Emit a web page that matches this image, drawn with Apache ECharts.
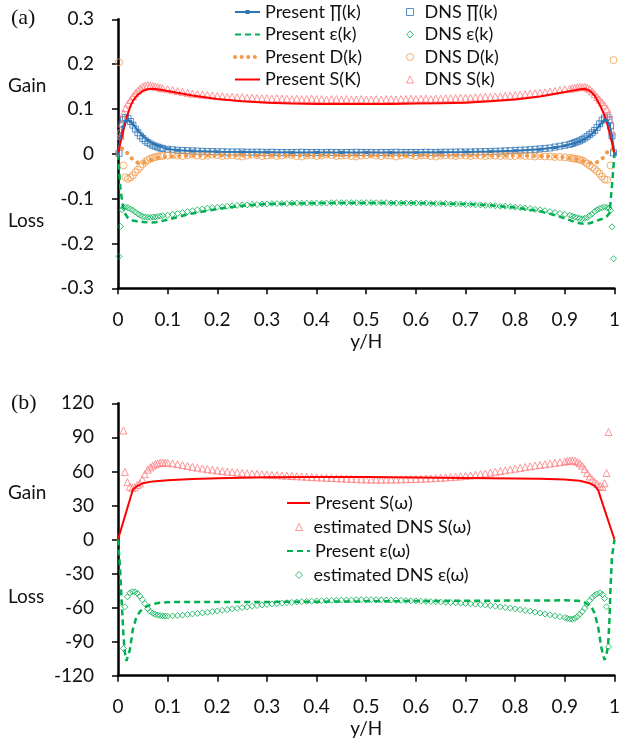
<!DOCTYPE html>
<html><head><meta charset="utf-8">
<script src="https://cdn.jsdelivr.net/npm/echarts@6/dist/echarts.min.js"></script>
<style>html,body{margin:0;padding:0;background:#fff}#c{width:623px;height:749px}</style>
</head><body><div id="c"></div>
<script>
// ---------- Panel (a) ----------
const presentX = [0,0.005,0.01,0.015,0.02,0.025,0.03,0.04,0.05,0.06,0.07,0.08,0.1,0.12,0.15,0.2,0.25,0.3,0.35,0.4,0.45,0.5,0.55,0.6,0.65,0.7,0.75,0.8,0.85,0.88,0.9,0.92,0.93,0.94,0.95,0.96,0.97,0.975,0.98,0.985,0.99,0.995,1];
const presentPi = [0,0.035,0.06,0.072,0.075,0.072,0.066,0.052,0.04,0.03,0.023,0.018,0.011,0.008,0.006,0.0045,0.004,0.0035,0.003,0.003,0.003,0.003,0.003,0.003,0.0035,0.004,0.005,0.007,0.01,0.014,0.018,0.024,0.028,0.033,0.04,0.05,0.063,0.07,0.075,0.074,0.065,0.04,0];
const presentEps = [0,-0.08,-0.117,-0.135,-0.143,-0.147,-0.149,-0.151,-0.152,-0.153,-0.153,-0.152,-0.147,-0.141,-0.133,-0.123,-0.116,-0.112,-0.111,-0.11,-0.11,-0.11,-0.11,-0.11,-0.111,-0.112,-0.115,-0.12,-0.128,-0.137,-0.144,-0.152,-0.155,-0.156,-0.155,-0.151,-0.147,-0.145,-0.142,-0.139,-0.132,-0.07,0];
const presentD = [0,0.011,0.012,0.007,0,-0.007,-0.013,-0.02,-0.02,-0.016,-0.012,-0.009,-0.006,-0.005,-0.004,-0.004,-0.004,-0.004,-0.004,-0.004,-0.004,-0.004,-0.004,-0.004,-0.004,-0.004,-0.004,-0.004,-0.005,-0.006,-0.008,-0.011,-0.014,-0.017,-0.02,-0.021,-0.016,-0.011,-0.005,0.003,0.01,0.011,0];
const presentS = [0,0.025,0.048,0.07,0.09,0.106,0.118,0.132,0.14,0.144,0.145,0.144,0.14,0.136,0.13,0.122,0.117,0.114,0.112,0.111,0.111,0.111,0.111,0.112,0.113,0.114,0.117,0.121,0.128,0.134,0.138,0.142,0.144,0.145,0.141,0.13,0.11,0.098,0.085,0.068,0.047,0.024,0];

const dnsX = [0.002,0.005,0.008,0.011,0.015,0.02,0.025,0.03,0.035,0.04,0.045,0.05,0.055,0.06,0.065,0.07,0.075,0.08,0.085,
 0.09,0.10,0.11,0.12,0.13,0.14,0.15,0.16,0.17,0.18,0.19,0.20,0.21,0.22,0.23,0.24,0.25,0.26,0.27,0.28,0.29,
 0.30,0.31,0.32,0.33,0.34,0.35,0.36,0.37,0.38,0.39,0.40,0.41,0.42,0.43,0.44,0.45,0.46,0.47,0.48,0.49,
 0.50,0.51,0.52,0.53,0.54,0.55,0.56,0.57,0.58,0.59,0.60,0.61,0.62,0.63,0.64,0.65,0.66,0.67,0.68,0.69,
 0.70,0.71,0.72,0.73,0.74,0.75,0.76,0.77,0.78,0.79,0.80,0.81,0.82,0.83,0.84,0.85,0.86,0.87,0.88,0.89,0.90,0.91,
 0.915,0.92,0.925,0.93,0.935,0.94,0.945,0.95,0.955,0.96,0.965,0.97,0.975,0.98,0.985,0.989,0.992,0.995,0.998];
const dnsPi = [0.001,0.04,0.066,0.076,0.081,0.079,0.072,0.064,0.055,0.047,0.04,0.034,0.029,0.025,0.022,0.019,0.017,0.015,0.013,
 0.012,0.010,0.009,0.008,0.0075,0.007,0.0065,0.006,0.0055,0.005,0.005,0.0045,0.0045,0.004,0.004,0.004,0.004,0.0035,0.0035,0.0035,0.0035,
 0.003,0.0035,0.003,0.003,0.0025,0.003,0.003,0.0035,0.003,0.003,0.003,0.0025,0.003,0.003,0.003,0.0025,0.003,0.003,0.0035,0.003,
 0.003,0.003,0.0025,0.003,0.003,0.003,0.0035,0.003,0.003,0.003,0.003,0.003,0.0035,0.003,0.003,0.0035,0.0035,0.0035,0.004,0.004,
 0.004,0.004,0.0045,0.0045,0.005,0.005,0.0055,0.006,0.0065,0.007,0.0075,0.008,0.0085,0.009,0.01,0.011,0.012,0.013,0.015,0.017,0.019,0.021,
 0.023,0.025,0.027,0.029,0.032,0.035,0.039,0.043,0.047,0.052,0.059,0.067,0.075,0.08,0.082,0.076,0.062,0.04,0.002];
const dnsEps = [-0.229,-0.162,-0.125,-0.12,-0.119,-0.12,-0.123,-0.126,-0.13,-0.134,-0.137,-0.14,-0.141,-0.142,-0.142,-0.141,-0.141,-0.14,-0.139,
 -0.138,-0.137,-0.135,-0.133,-0.131,-0.129,-0.127,-0.125,-0.123,-0.121,-0.12,-0.119,-0.118,-0.117,-0.116,-0.115,-0.114,-0.114,-0.113,-0.113,-0.112,
 -0.112,-0.111,-0.111,-0.111,-0.111,-0.11,-0.11,-0.11,-0.11,-0.11,-0.11,-0.11,-0.11,-0.109,-0.109,-0.109,-0.109,-0.109,-0.109,-0.109,
 -0.109,-0.109,-0.109,-0.109,-0.109,-0.11,-0.11,-0.11,-0.11,-0.11,-0.11,-0.11,-0.11,-0.111,-0.111,-0.111,-0.111,-0.112,-0.112,-0.112,
 -0.113,-0.113,-0.114,-0.114,-0.115,-0.115,-0.116,-0.117,-0.117,-0.118,-0.119,-0.12,-0.121,-0.122,-0.124,-0.125,-0.127,-0.129,-0.131,-0.133,-0.135,-0.137,
 -0.139,-0.141,-0.142,-0.144,-0.145,-0.144,-0.142,-0.138,-0.134,-0.129,-0.125,-0.122,-0.12,-0.119,-0.12,-0.121,-0.126,-0.163,-0.234];
const dnsD = [0.204,0.046,null,-0.026,-0.052,-0.056,-0.053,-0.048,-0.041,-0.035,-0.029,-0.023,-0.018,-0.014,-0.011,-0.009,-0.007,-0.006,-0.005,
 -0.005,-0.004,-0.003,-0.004,-0.005,-0.003,-0.002,-0.004,-0.005,-0.004,-0.002,-0.003,-0.005,-0.004,-0.003,-0.005,-0.006,-0.004,-0.002,-0.003,-0.005,
 -0.004,-0.003,-0.005,-0.004,-0.002,-0.003,-0.005,-0.006,-0.004,-0.003,-0.005,-0.004,-0.002,-0.003,-0.005,-0.004,-0.003,-0.005,-0.006,-0.004,
 -0.003,-0.002,-0.004,-0.005,-0.003,-0.004,-0.006,-0.004,-0.002,-0.003,-0.005,-0.004,-0.003,-0.005,-0.006,-0.004,-0.003,-0.004,-0.005,-0.003,
 -0.004,-0.005,-0.003,-0.004,-0.005,-0.004,-0.004,-0.005,-0.004,-0.005,-0.005,-0.004,-0.005,-0.005,-0.006,-0.005,-0.006,-0.006,-0.007,-0.007,-0.008,-0.009,
 -0.01,-0.011,-0.012,-0.013,-0.015,-0.018,-0.022,-0.026,-0.03,-0.034,-0.039,-0.044,-0.051,-0.057,-0.058,null,-0.026,null,0.209];
const dnsS = [null,0.04,0.068,0.09,0.102,0.112,0.12,0.128,0.135,0.141,0.146,0.15,0.152,0.153,0.152,0.151,0.15,0.149,0.147,
 0.146,0.144,0.142,0.14,0.138,0.136,0.134,0.133,0.132,0.131,0.13,0.129,0.128,0.127,0.127,0.126,0.126,0.125,0.125,0.124,0.124,
 0.124,0.123,0.124,0.123,0.123,0.122,0.123,0.122,0.122,0.123,0.122,0.122,0.121,0.122,0.122,0.121,0.122,0.121,0.121,0.122,
 0.121,0.121,0.122,0.121,0.122,0.122,0.121,0.122,0.122,0.123,0.122,0.123,0.123,0.122,0.123,0.123,0.124,0.124,0.124,0.125,
 0.125,0.125,0.126,0.126,0.127,0.127,0.128,0.128,0.129,0.13,0.131,0.132,0.133,0.134,0.135,0.136,0.137,0.139,0.14,0.142,0.144,0.145,
 0.146,0.147,0.148,0.149,0.149,0.149,0.147,0.144,0.139,0.133,0.127,0.121,0.115,0.108,0.1,0.09,0.075,0.05,null];

// ---------- Panel (b) ----------
const presSwX = [0,0.03,0.04,0.05,0.07,0.1,0.15,0.2,0.3,0.4,0.5,0.6,0.7,0.8,0.85,0.9,0.93,0.95,0.96,0.967,1];
const presSw  = [0,44,47.5,49.5,51.2,52.3,53.3,54,54.8,55.1,55.1,54.6,54.2,53.8,53.5,52.8,51.8,49.5,47.5,43.5,0];
const presEwX = [0,0.004,0.008,0.011,0.014,0.017,0.02,0.024,0.03,0.036,0.044,0.055,0.065,0.08,0.1,0.15,0.2,0.3,0.4,0.5,0.6,0.7,0.8,0.9,0.927,0.94,0.953,0.96,0.967,0.973,0.977,0.98,0.983,0.987,0.99,0.992,0.995,1];
const presEw  = [0,-24,-60,-85,-100,-107,-106,-97,-79,-70,-63.5,-59.5,-57.5,-56,-55.2,-55,-55,-55,-54.8,-54.5,-54.2,-54,-53.8,-53.6,-54,-55.5,-59,-65,-77,-94,-102,-106,-103,-94,-70,-42,-15,0];

const estX = [0.011,0.014,0.019,0.024,0.029,0.034,0.039,0.044,0.049,0.054,0.06,0.065,0.07,0.075,0.08,0.085,0.09,0.095,
 0.10,0.11,0.12,0.13,0.14,0.15,0.16,0.17,0.18,0.19,0.20,0.21,0.22,0.23,0.24,0.25,0.26,0.27,0.28,0.29,
 0.30,0.31,0.32,0.33,0.34,0.35,0.36,0.37,0.38,0.39,0.40,0.41,0.42,0.43,0.44,0.45,0.46,0.47,0.48,0.49,
 0.50,0.51,0.52,0.53,0.54,0.55,0.56,0.57,0.58,0.59,0.60,0.61,0.62,0.63,0.64,0.65,0.66,0.67,0.68,0.69,
 0.70,0.71,0.72,0.73,0.74,0.75,0.76,0.77,0.78,0.79,0.80,0.81,0.82,0.83,0.84,0.85,0.86,0.87,0.88,0.89,
 0.90,0.905,0.91,0.915,0.92,0.925,0.93,0.935,0.94,0.945,0.95,0.955,0.96,0.965,0.971,0.976,0.98,0.984,0.988];
const estSw = [96,59.5,50.5,46.5,45.5,46,48,49.5,53,57.5,61.5,63.5,65,66.3,67,67.5,67.8,67.7,
 67.5,67,66.3,65.6,64.8,64,63.3,62.6,62,61.4,60.8,60.3,59.8,59.4,59,58.6,58.3,58,57.7,57.4,
 57.2,56.9,56.7,56.4,56.2,55.9,55.7,55.5,55.3,55,54.8,54.6,54.4,54.2,54,53.8,53.6,53.4,53.2,53,
 52.9,52.8,52.8,52.7,52.8,52.8,52.9,53,53.1,53.2,53.3,53.5,53.7,53.9,54.1,54.4,54.7,55,55.3,55.6,
 56,56.5,57,57.6,58.2,58.9,59.6,60.3,61,61.7,62.4,63.1,63.8,64.5,65.1,65.7,66.3,66.9,67.5,68.1,
 68.7,69.1,69.5,69.6,69.3,68.4,67,65,62,58.5,55.5,53,51,49,47.2,46.3,49.5,58.6,94.7];
const estEw = [-96,-59.3,-50.5,-47,-46,-46.2,-47.5,-50,-53,-56.5,-61,-63.5,-65,-66,-66.6,-67,-67.3,-67.5,
 -67.5,-67.3,-67,-66.6,-66.1,-65.6,-65.1,-64.6,-64.1,-63.5,-63,-62.4,-61.8,-61.2,-60.6,-60,-59.4,-58.8,-58.2,-57.7,
 -57.2,-56.8,-56.4,-56,-55.7,-55.4,-55.1,-54.8,-54.6,-54.4,-54.2,-54,-53.8,-53.6,-53.5,-53.4,-53.3,-53.2,-53.1,-53,
 -53,-53,-53.1,-53.2,-53.3,-53.4,-53.5,-53.6,-53.8,-54,-54.1,-54.3,-54.5,-54.7,-54.9,-55.1,-55.3,-55.5,-55.8,-56.1,
 -56.4,-56.7,-57,-57.4,-57.8,-58.3,-58.8,-59.3,-59.9,-60.5,-61.1,-61.8,-62.5,-63.2,-64,-64.8,-65.6,-66.4,-67.2,-68,
 -68.8,-69.5,-70,-70.2,-69.5,-68,-66,-63.5,-60.5,-57,-53.8,-51.2,-49.2,-47.8,-47,-48.5,-52,-59.3,-94.6];

const xTicksLabels = ['0','0.1','0.2','0.3','0.4','0.5','0.6','0.7','0.8','0.9','1'];

const C_BLUE = '#2E75B6', C_GREEN = '#00B050', C_ORANGE = '#F29A4A', C_RED = '#FF0000', C_PINK = '#FF7C80';
const FONT = 'Lato, "Open Sans", sans-serif';

function pairs(xs, ys) {
  const out = [];
  for (let i = 0; i < xs.length; i++) if (ys[i] !== null) out.push([xs[i], ys[i]]);
  return out;
}
function lineSeries(name, gi, xs, ys, color, style, extra) {
  return Object.assign({
    name, type: 'line', xAxisIndex: gi, yAxisIndex: gi, data: pairs(xs, ys),
    symbol: 'none', lineStyle: Object.assign({ color, width: 2 }, style), itemStyle: { color },
    animation: false, z: 3
  }, extra || {});
}
function dnsSeries(name, gi, xs, ys, color, symbol, size) {
  return {
    name, type: 'scatter', xAxisIndex: gi, yAxisIndex: gi, data: pairs(xs, ys),
    symbol, symbolSize: size,
    itemStyle: { color: 'rgba(255,255,255,0)', borderColor: color, borderWidth: 1 },
    animation: false, z: 2
  };
}
function hollow(name, color) {
  return { name, itemStyle: { color: 'rgba(255,255,255,0)', borderColor: color, borderWidth: 1 } };
}

const axisCommon = {
  axisLine: { lineStyle: { color: '#000', width: 2.5 } },
  axisTick: { show: true, length: 6, lineStyle: { color: '#000', width: 1.5 } },
  splitLine: { show: false },
  axisLabel: { color: '#111', fontSize: 19, fontFamily: FONT }
};
function xAxis(gi) {
  return Object.assign({}, axisCommon, {
    type: 'value', gridIndex: gi, min: 0, max: 1, interval: 0.1,
    axisLine: { onZero: false, lineStyle: { color: '#000', width: 2.5 } },
    axisLabel: { color: '#111', fontSize: 19, fontFamily: FONT, margin: 22,
      formatter: v => xTicksLabels[Math.round(v * 10)] },
    name: 'y/H', nameLocation: 'middle', nameGap: 44,
    nameTextStyle: { color: '#111', fontSize: 19, fontFamily: FONT }
  });
}

const chart = echarts.init(document.getElementById('c'), null, { renderer: 'canvas' });
const legText = { color: '#111', fontSize: 18, fontFamily: FONT, lineHeight: 20 };
const legTextMk = { color: '#111', fontSize: 18, fontFamily: FONT, lineHeight: 20, padding: [0, 0, 0, 6] };
const noSym = { color: 'rgba(0,0,0,0)', borderWidth: 0, opacity: 0 };

chart.setOption({
  animation: false,
  backgroundColor: '#fff',
  grid: [
    { left: 118, right: 3.3, top: 19.3, height: 269 },
    { left: 118, right: 3.3, top: 403.3, height: 272.4 }
  ],
  xAxis: [xAxis(0), xAxis(1)],
  yAxis: [
    Object.assign({}, axisCommon, { type: 'value', gridIndex: 0, min: -0.3, max: 0.3, interval: 0.1,
      axisLabel: { color: '#111', fontSize: 19, fontFamily: FONT, margin: 24,
        formatter: v => String(Math.round(v * 10) / 10) } }),
    Object.assign({}, axisCommon, { type: 'value', gridIndex: 1, min: -120, max: 120, interval: 30,
      axisLabel: { color: '#111', fontSize: 19, fontFamily: FONT, margin: 24 } })
  ],
  legend: [
    { orient: 'vertical', left: 233, top: 2, padding: 0, itemWidth: 25, itemHeight: 5, itemGap: 2.5, selectedMode: false,
      textStyle: legText,
      data: [{ name: 'Present ∏(k)' }, { name: 'Present ε(k)', itemStyle: noSym },
             { name: 'Present D(k)', itemStyle: noSym,
               lineStyle: { color: C_ORANGE, width: 4, type: [0.1, 6.5], cap: 'round' } },
             { name: 'Present S(K)', itemStyle: noSym }] },
    { orient: 'vertical', left: 406, top: 2, padding: 0, itemWidth: 7, itemHeight: 7, itemGap: 2.5, selectedMode: false,
      textStyle: legTextMk,
      data: [hollow('DNS ∏(k)', C_BLUE), hollow('DNS ε(k)', C_GREEN), hollow('DNS D(k)', C_ORANGE), hollow('DNS S(k)', C_PINK)] },
    { orient: 'vertical', left: 286, top: 493, padding: 0, itemWidth: 23, itemHeight: 7, itemGap: 28, selectedMode: false,
      textStyle: legText,
      data: [{ name: 'Present S(ω)', itemStyle: noSym }, { name: 'Present ε(ω)', itemStyle: noSym }] },
    { orient: 'vertical', left: 295, top: 517, padding: 0, itemWidth: 7, itemHeight: 7, itemGap: 28, selectedMode: false,
      textStyle: Object.assign({}, legTextMk, { padding: [0, 0, 0, 6] }),
      data: [hollow('estimated DNS S(ω)', C_PINK), hollow('estimated DNS ε(ω)', C_GREEN)] }
  ],
  series: [
    lineSeries('Present ∏(k)', 0, presentX, presentPi, C_BLUE, { width: 2 },
      { symbol: 'rect', symbolSize: 3, showSymbol: true }),
    dnsSeries('DNS ∏(k)', 0, dnsX, dnsPi, C_BLUE, 'rect', 6),
    lineSeries('Present ε(k)', 0, presentX, presentEps, C_GREEN, { width: 2.5, type: [6, 4] }),
    dnsSeries('DNS ε(k)', 0, dnsX, dnsEps, C_GREEN, 'diamond', 6),
    lineSeries('Present D(k)', 0, presentX, presentD, C_ORANGE, { width: 4, type: [0.1, 7], cap: 'round' }),
    dnsSeries('DNS D(k)', 0, dnsX, dnsD, C_ORANGE, 'circle', 7),
    lineSeries('Present S(K)', 0, presentX, presentS, C_RED, { width: 2 }),
    dnsSeries('DNS S(k)', 0, dnsX, dnsS, C_PINK, 'triangle', 7),

    lineSeries('Present S(ω)', 1, presSwX, presSw, C_RED, { width: 2 }),
    dnsSeries('estimated DNS S(ω)', 1, estX, estSw, C_PINK, 'triangle', 7),
    lineSeries('Present ε(ω)', 1, presEwX, presEw, C_GREEN, { width: 2.5, type: [6, 4] }),
    dnsSeries('estimated DNS ε(ω)', 1, estX, estEw, C_GREEN, 'diamond', 6)
  ],
  graphic: [
    { type: 'text', left: 11, top: 7, style: { text: '(a)', font: '22px "Liberation Serif", serif', fill: '#111' } },
    { type: 'text', left: 11, top: 392, style: { text: '(b)', font: '22px "Liberation Serif", serif', fill: '#111' } },
    { type: 'text', left: 8, top: 76, style: { text: 'Gain', font: '19px ' + FONT, fill: '#111' } },
    { type: 'text', left: 8, top: 211, style: { text: 'Loss', font: '19px ' + FONT, fill: '#111' } },
    { type: 'text', left: 8, top: 483, style: { text: 'Gain', font: '19px ' + FONT, fill: '#111' } },
    { type: 'text', left: 8, top: 587, style: { text: 'Loss', font: '19px ' + FONT, fill: '#111' } }
  ]
});
</script></body></html>
